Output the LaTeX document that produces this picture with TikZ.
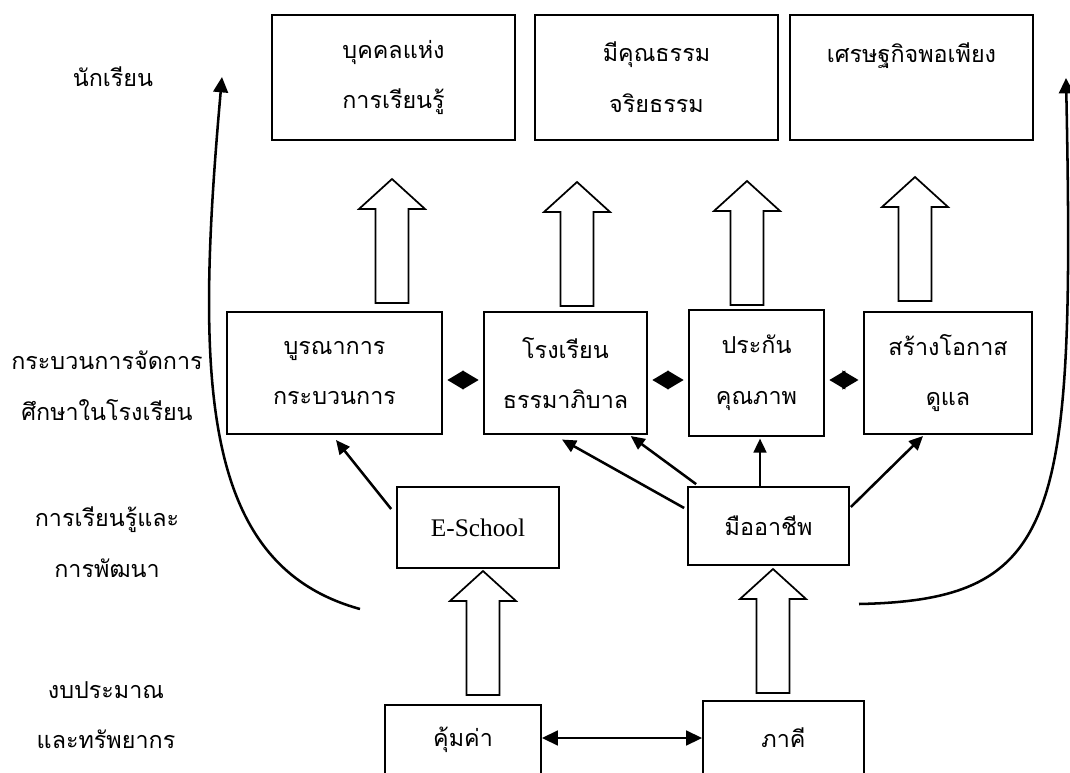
\documentclass[tikz,border=0pt]{standalone}
\usepackage{fontspec}
\setmainfont{Liberation Serif}
\newfontfamily\thaifont[Script=Thai]{Loma}
\usetikzlibrary{arrows.meta,calc}

\begin{document}
\begin{tikzpicture}[
  x=0.75pt, y=-0.75pt,
  >={Triangle[length=10.5pt,width=9.5pt]},
  box/.style={draw, line width=1.3pt, align=center, inner sep=0pt, font=\thaifont\fontsize{17.5}{38}\selectfont},
  goal/.style={box, minimum width=182pt, minimum height=94pt},
  proc/.style={box, minimum height=91pt},
  lab/.style={align=center, inner sep=0pt, font=\thaifont\fontsize{17.5}{38}\selectfont},
  arr/.style={->, line width=1.9pt},
  loop/.style={arr, >={Triangle[length=11.5pt,width=11pt]}},
  dia/.style={{Triangle[length=12pt,width=14pt]}-{Triangle[length=12pt,width=14pt]}, line width=1.1pt, shorten <=3.5pt, shorten >=3.5pt},
  hollowup/.pic={\draw[line width=1.3pt, fill=white] (-16.5,0) -- (-16.5,-94) -- (-33,-94) -- (0,-124) -- (33,-94) -- (16.5,-94) -- (16.5,0) -- cycle;},
]
\useasboundingbox (0,0) rectangle (1070,773);
\clip (0,0) rectangle (1070,773);

% level labels (left column)
\node[lab] (l1) at (113,77) {นักเรียน};
\node[lab] (l2) at (107,386) {กระบวนการจัดการ\\ศึกษาในโรงเรียน};
\node[lab] (l3) at (107,542) {การเรียนรู้และ\\การพัฒนา};
\node[lab] (l4) at (106,715) {งบประมาณ\\และทรัพยากร};

% outcomes (top row)
\node[goal] (p1) at (393.5,77.5) {บุคคลแห่ง\\การเรียนรู้};
\node[goal] (p2) at (656.5,77.5) {มีคุณธรรม\\จริยธรรม};
\node[goal] (p3) at (911.5,77.5) {เศรษฐกิจพอเพียง\\\mbox{}};

% school processes (middle row)
\node[proc, minimum width=161pt] (m1) at (334.5,373) {บูรณาการ\\กระบวนการ};
\node[proc, minimum width=122pt] (m2) at (565.5,373) {โรงเรียน\\ธรรมาภิบาล};
\node[proc, minimum width=101pt, minimum height=94pt] (m3) at (756.5,373) {ประกัน\\คุณภาพ};
\node[proc, minimum width=126pt] (m4) at (948,373) {สร้างโอกาส\\ดูแล};
\draw[dia] ($(m1.east)+(0,7)$) -- ($(m2.west)+(0,7)$);
\draw[dia] ($(m2.east)+(0,7)$) -- ($(m3.west)+(0,7)$);
\draw[dia] ($(m3.east)+(0,7)$) -- ($(m4.west)+(0,7)$);

% learning and development
\node[box, minimum width=121.5pt, minimum height=60.75pt] (es) at (478,527.5) {\rmfamily\fontsize{19}{22}\selectfont E-School};
\node[box, minimum width=120.75pt, minimum height=58.5pt] (ma) at (768.5,526) {มืออาชีพ};

% budget and resources (bottom row)
\node[box, minimum width=117pt, minimum height=86.25pt] (km) at (463,762.5) {คุ้มค่า\\\mbox{}};
\node[box, minimum width=120.75pt, minimum height=92pt] (pk) at (783.5,762.5) {ภาคี\\\mbox{}};
\draw[<->, line width=1.9pt, >={Triangle[length=12pt,width=11pt]}] ($(km.east)+(0,-24.5)$) -- ($(pk.west)+(0,-24.5)$);

% block arrows
\foreach \x/\y in {392/303,577/306,747/305,915/301,483/695,773/693}
  \pic at (\x,\y) {hollowup};

% thin arrows up to the processes
\draw[arr] ($(es.west)+(-5,-18.5)$) -- ($(m1.south)+(1.5,5.5)$);
\draw[arr] ($(ma.north west)+(9,-2)$) -- ($(m2.south east)+(-17,1.5)$);
\draw[arr] ($(ma.west)+(-3,-18)$) -- ($(m2.south)+(-3.5,5)$);
\draw[arr] ($(ma.north)+(-8.5,0)$) -- ($(m3.south)+(3.5,2)$);
\draw[arr] ($(ma.east)+(1,-19)$) -- ($(m4.south)+(-25,1.5)$);

% side loops
\coordinate (cl0) at (360,609);
\coordinate (cl1) at (222,77);
\coordinate (cr0) at (859,604);
\coordinate (cr1) at (1066,78);
\draw[loop] (cl0) .. controls (200,565) and (195,380) .. (cl1);
\draw[loop] (cr0) .. controls (1060,600) and (1075,520) .. (cr1);
\end{tikzpicture}
\end{document}
